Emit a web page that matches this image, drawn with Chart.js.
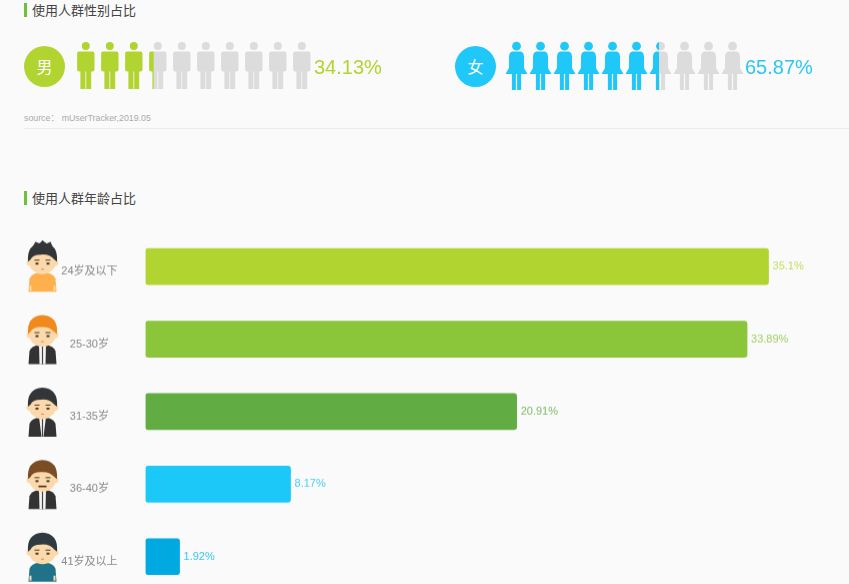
<!DOCTYPE html>
<html>
<head>
<meta charset="utf-8">
<script src="https://cdn.jsdelivr.net/npm/chart.js@4"></script>
<style>
html, body { margin: 0; height: 584px; overflow: hidden; background: #fafafa; }
body { position: relative; width: 849px; font-family: "Liberation Sans", "Noto Sans CJK SC", sans-serif; }
canvas { position: absolute; }
#ageWrap { position: absolute; left: 0; top: 0; width: 849px; height: 626.5px; }
.title { position: absolute; left: 24px; height: 14px; border-left: 3px solid #6cc33a; padding-left: 5px; font: 13px/14px "Noto Sans CJK SC"; color: #444; white-space: nowrap; }
.badge { position: absolute; top: 46px; width: 41px; height: 41px; border-radius: 50%; color: #fff; text-align: center; font: 16px/41px "Noto Sans CJK SC"; }
.pct { position: absolute; top: 55px; font-size: 20px; line-height: 24px; }
.source { position: absolute; left: 24px; top: 112px; font: 8.8px/13px "Liberation Sans", "Noto Sans CJK SC"; color: #aaa; white-space: nowrap; }
.rule { position: absolute; left: 24px; right: 0; top: 127.5px; height: 1px; background: #ececec; }
</style>
</head>
<body>
<div class="title" style="top:3px" id="genderTitle"></div>
<div class="badge" id="maleBadge" style="left:24px;background:#b2d430"></div>
<canvas id="maleChart" style="left:67.7px;top:40px" width="250" height="52"></canvas>
<div class="pct" id="malePct" style="left:314px;color:#b2d430"></div>
<div class="badge" id="femaleBadge" style="left:455px;background:#1fc8f8"></div>
<canvas id="femaleChart" style="left:494px;top:40px" width="250" height="52"></canvas>
<div class="pct" id="femalePct" style="left:745px;color:#2cc6f5"></div>
<div class="source" id="sourceLine"></div>
<div class="rule"></div>
<div class="title" style="top:191px" id="ageTitle"></div>
<div id="ageWrap"><canvas id="ageChart"></canvas></div>

<script>
// ==== Dữ liệu ====
const genderNames = ["男", "女"];
const genderValues = [34.13, 65.87];
const ageLabels = ["24岁及以下", "25-30岁", "31-35岁", "36-40岁", "41岁及以上"];
const ageValues = [35.1, 33.89, 20.91, 8.17, 1.92];
const ageValueText = ["35.1%", "33.89%", "20.91%", "8.17%", "1.92%"];
const ageColors = ["#b2d430", "#8bc63a", "#62ad43", "#1cc8f7", "#00a9e0"];
const ageTextColors = ["#c3dc5c", "#a0cf63", "#7dbb62", "#45cff6", "#38c4f2"];

const titleGender = "使用人群性别占比";
const titleAge = "使用人群年龄占比";
const sourceText = "source： mUserTracker,2019.05";

document.getElementById("genderTitle").textContent = titleGender;
document.getElementById("ageTitle").textContent = titleAge;
document.getElementById("sourceLine").textContent = sourceText;
document.getElementById("maleBadge").textContent = genderNames[0];
document.getElementById("femaleBadge").textContent = genderNames[1];
document.getElementById("malePct").textContent = genderValues[0] + "%";
document.getElementById("femalePct").textContent = genderValues[1] + "%";

// ==== Hình người ====
function manShape(ctx, cx) {
    ctx.beginPath();
    ctx.arc(cx, 6, 4, 0, Math.PI * 2);
    ctx.fill();
    ctx.beginPath();
    ctx.roundRect(cx - 8.7, 11.5, 17.4, 20, 2);
    ctx.fill();
    ctx.fillRect(cx - 5.4, 30, 5, 19);
    ctx.fillRect(cx + 0.4, 30, 5, 19);
}

function womanShape(ctx, cx) {
    ctx.beginPath();
    ctx.arc(cx, 6.2, 4.4, 0, Math.PI * 2);
    ctx.fill();
    ctx.beginPath();
    ctx.moveTo(cx - 4, 11.5);
    ctx.lineTo(cx + 4, 11.5);
    ctx.quadraticCurveTo(cx + 7.5, 12, cx + 7.5, 17);
    ctx.lineTo(cx + 7.5, 28);
    ctx.lineTo(cx + 11, 34);
    ctx.lineTo(cx - 11, 34);
    ctx.lineTo(cx - 7.5, 28);
    ctx.lineTo(cx - 7.5, 17);
    ctx.quadraticCurveTo(cx - 7.5, 12, cx - 4, 11.5);
    ctx.fill();
    ctx.fillRect(cx - 4.6, 33, 4, 17);
    ctx.fillRect(cx + 0.6, 33, 4, 17);
}

// Cắt thanh theo hình người
function peopleMask(shape, firstCenter) {
    return {
        id: "peopleMask",
        afterDatasetsDraw(chart) {
            const ctx = chart.ctx;
            const mask = document.createElement("canvas");
            mask.width = chart.canvas.width;
            mask.height = chart.canvas.height;
            const mctx = mask.getContext("2d");
            mctx.scale(chart.currentDevicePixelRatio, chart.currentDevicePixelRatio);
            mctx.fillStyle = "#000";
            for (let i = 0; i < 10; i++) shape(mctx, firstCenter + i * 24);
            ctx.save();
            ctx.setTransform(1, 0, 0, 1, 0, 0);
            ctx.globalCompositeOperation = "destination-in";
            ctx.drawImage(mask, 0, 0);
            ctx.restore();
        },
    };
}

function genderChart(id, value, color, shape, firstCenter) {
    new Chart(document.getElementById(id), {
        type: "bar",
        data: {
            labels: [""],
            datasets: [
                { data: [value], backgroundColor: color },
                { data: [100 - value], backgroundColor: "#dcdcdc" },
            ],
        },
        options: {
            indexAxis: "y",
            responsive: false,
            animation: false,
            barPercentage: 1,
            categoryPercentage: 1,
            plugins: { legend: { display: false }, tooltip: { enabled: false } },
            scales: {
                x: { stacked: true, display: false, min: 0, max: 100 },
                y: { stacked: true, display: false },
            },
        },
        plugins: [peopleMask(shape, firstCenter)],
    });
}

genderChart("maleChart", genderValues[0], "#b2d430", manShape, 17.8);
genderChart("femaleChart", genderValues[1], "#1fc8f8", womanShape, 22.5);

// ==== Hình đại diện cho từng nhóm tuổi ====
const avatarLooks = [
    { hair: "#333638", body: "#ffb04d", kind: "tee", spiky: true },
    { hair: "#f08a1d", body: "#333333", kind: "coat" },
    { hair: "#333638", body: "#333333", kind: "suit" },
    { hair: "#7b4d25", body: "#333333", kind: "coat", moustache: true },
    { hair: "#2f3a40", body: "#1f7288", kind: "tee" },
];

function drawAvatar(ctx, cx, cy, look) {
    const skin = "#fbd9ab";
    // thân
    ctx.fillStyle = look.body;
    ctx.beginPath();
    ctx.moveTo(cx - 14, cy + 25);
    ctx.lineTo(cx - 13, cy + 12);
    ctx.quadraticCurveTo(cx - 11, cy + 7, cx - 4, cy + 6);
    ctx.lineTo(cx + 4, cy + 6);
    ctx.quadraticCurveTo(cx + 11, cy + 7, cx + 13, cy + 12);
    ctx.lineTo(cx + 14, cy + 25);
    ctx.closePath();
    ctx.fill();
    if (look.kind !== "tee") {
        ctx.fillStyle = "#f4f4f4";
        ctx.beginPath();
        ctx.moveTo(cx - 3.5, cy + 5);
        ctx.lineTo(cx + 3.5, cy + 5);
        ctx.lineTo(cx + (look.kind === "coat" ? 3 : 1), cy + 25);
        ctx.lineTo(cx - (look.kind === "coat" ? 3 : 1), cy + 25);
        ctx.closePath();
        ctx.fill();
        ctx.fillStyle = "#444";
        ctx.fillRect(cx - 0.6, cy + 7, 1.2, 18);
    } else {
        ctx.fillStyle = skin;
        ctx.fillRect(cx - 13, cy + 19, 2, 5);
        ctx.fillRect(cx + 11, cy + 19, 2, 5);
    }
    // đầu và tai
    ctx.fillStyle = skin;
    ctx.beginPath();
    ctx.arc(cx - 13, cy - 4, 3, 0, Math.PI * 2);
    ctx.arc(cx + 13, cy - 4, 3, 0, Math.PI * 2);
    ctx.fill();
    ctx.beginPath();
    ctx.ellipse(cx, cy - 5, 13.5, 12.5, 0, 0, Math.PI * 2);
    ctx.fill();
    // tóc
    ctx.fillStyle = look.hair;
    ctx.beginPath();
    ctx.moveTo(cx - 14.5, cy - 5);
    ctx.quadraticCurveTo(cx - 16, cy - 23, cx, cy - 24);
    ctx.quadraticCurveTo(cx + 16, cy - 23, cx + 14.5, cy - 5);
    ctx.lineTo(cx + 12, cy - 7);
    ctx.quadraticCurveTo(cx + 7, cy - 13, cx - 2, cy - 12);
    ctx.quadraticCurveTo(cx - 10, cy - 12, cx - 12, cy - 7);
    ctx.closePath();
    ctx.fill();
    if (look.spiky) {
        ctx.beginPath();
        ctx.moveTo(cx - 11, cy - 18);
        ctx.lineTo(cx - 7, cy - 25);
        ctx.lineTo(cx - 3, cy - 23);
        ctx.lineTo(cx, cy - 26.5);
        ctx.lineTo(cx + 4, cy - 23);
        ctx.lineTo(cx + 8, cy - 25);
        ctx.lineTo(cx + 11, cy - 18);
        ctx.closePath();
        ctx.fill();
    }
    // mắt, lông mày
    ctx.fillStyle = "#4a3b36";
    ctx.fillRect(cx - 7, cy - 4, 3, 2);
    ctx.fillRect(cx + 4, cy - 4, 3, 2);
    ctx.fillRect(cx - 8, cy - 7, 5, 1);
    ctx.fillRect(cx + 3, cy - 7, 5, 1);
    if (look.moustache) {
        ctx.fillStyle = "#3f2c20";
        ctx.fillRect(cx - 4, cy + 1.5, 8, 1.6);
    } else {
        ctx.fillStyle = "#c98f70";
        ctx.fillRect(cx - 1.5, cy + 2, 3, 1);
    }
}

// ==== Plugin: giá trị cuối thanh và hình đại diện ====
const ageExtras = {
    id: "ageExtras",
    afterDatasetsDraw(chart) {
        const ctx = chart.ctx;
        const meta = chart.getDatasetMeta(0);
        ctx.save();
        ctx.font = '11px "Liberation Sans"';
        ctx.textBaseline = "middle";
        ctx.textAlign = "left";
        meta.data.forEach((bar, i) => {
            ctx.fillStyle = ageTextColors[i];
            ctx.fillText(ageValueText[i], bar.x + 4, bar.y);
            drawAvatar(ctx, 42.5, bar.y, avatarLooks[i]);
        });
        ctx.restore();
    },
};

new Chart(document.getElementById("ageChart"), {
    type: "bar",
    data: {
        labels: ageLabels,
        datasets: [
            {
                data: ageValues,
                backgroundColor: ageColors,
                borderRadius: 3,
                borderSkipped: false,
                barThickness: 36,
            },
        ],
    },
    options: {
        indexAxis: "y",
        responsive: true,
        maintainAspectRatio: false,
        animation: false,
        layout: { padding: { left: 33.5, right: 29, top: 230, bottom: 7.5 } },
        plugins: { legend: { display: false }, tooltip: { enabled: false } },
        scales: {
            x: { display: false, min: 0, max: 38 },
            y: {
                afterFit: (scale) => { scale.width = 112; },
                grid: { display: false, drawTicks: false },
                border: { display: false },
                ticks: {
                    crossAlign: "center",
                    padding: 28,
                    labelOffset: 5,
                    color: "#888888",
                    font: { size: 11, family: '"Liberation Sans", "Noto Sans CJK SC"' },
                },
            },
        },
    },
    plugins: [ageExtras],
});
</script>
</body>
</html>
